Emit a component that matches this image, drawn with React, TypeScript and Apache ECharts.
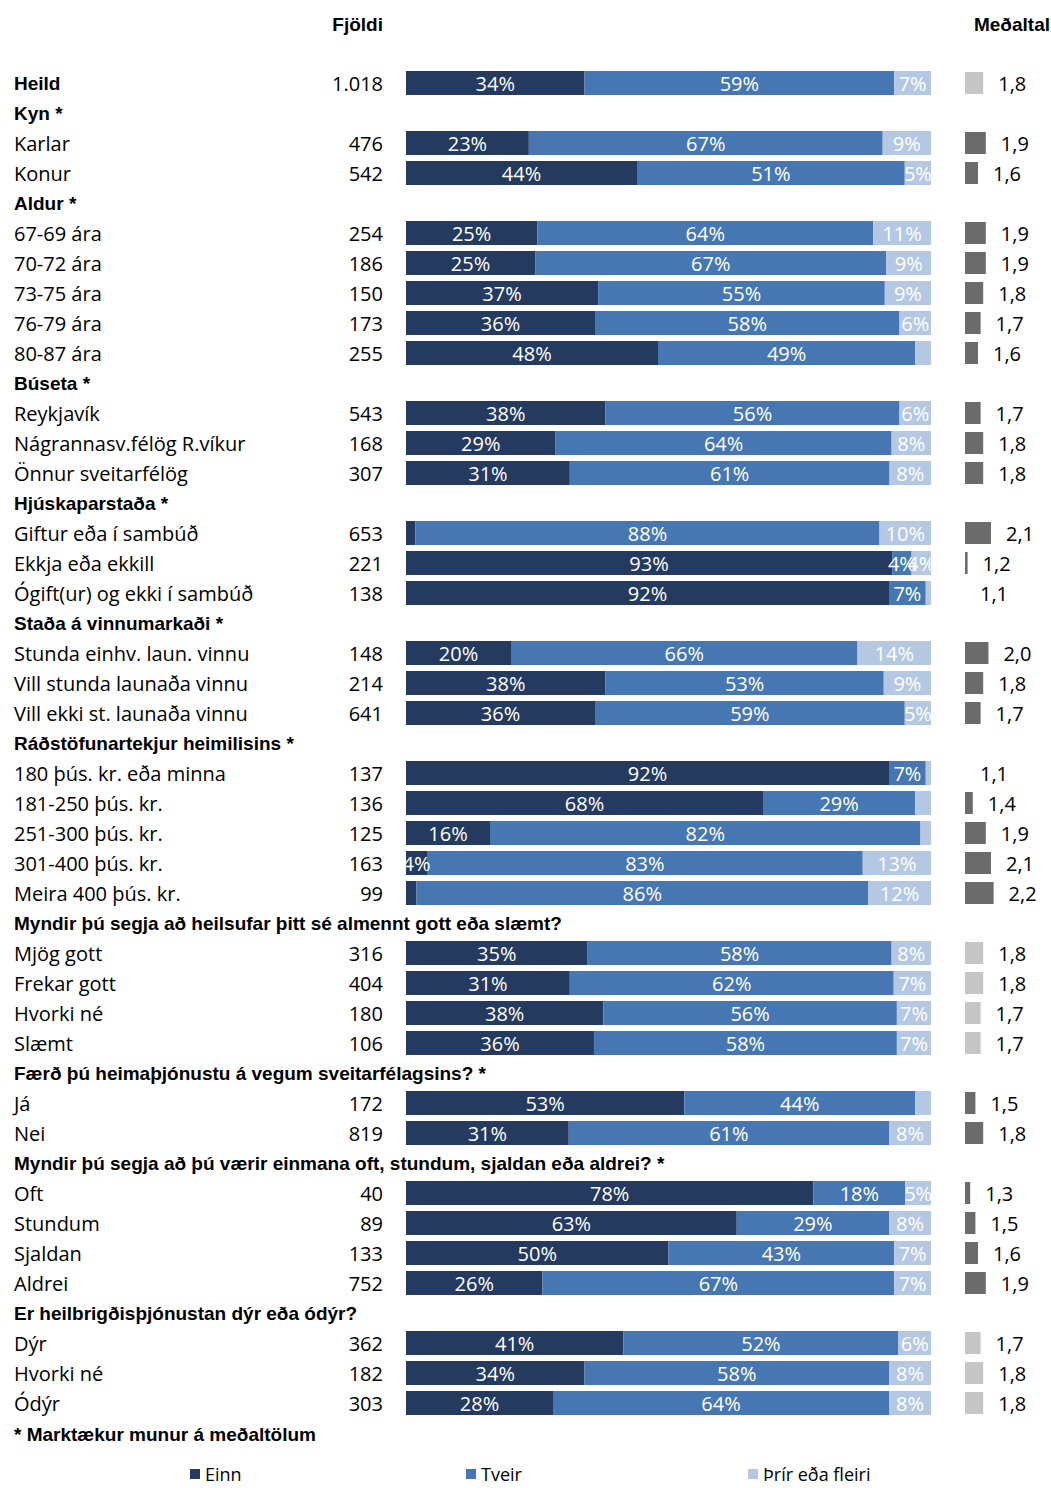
import React, { useEffect, useRef } from "react";
import * as echarts from "echarts";

const rowLabels = [
  "Heild", "Kyn *", "Karlar", "Konur", "Aldur *", "67-69 ára", "70-72 ára", "73-75 ára", "76-79 ára", "80-87 ára",
  "Búseta *", "Reykjavík", "Nágrannasv.félög R.víkur", "Önnur sveitarfélög",
  "Hjúskaparstaða *", "Giftur eða í sambúð", "Ekkja eða ekkill", "Ógift(ur) og ekki í sambúð",
  "Staða á vinnumarkaði *", "Stunda einhv. laun. vinnu", "Vill stunda launaða vinnu", "Vill ekki st. launaða vinnu",
  "Ráðstöfunartekjur heimilisins *", "180 þús. kr. eða minna", "181-250 þús. kr.", "251-300 þús. kr.", "301-400 þús. kr.", "Meira 400 þús. kr.",
  "Myndir þú segja að heilsufar þitt sé almennt gott eða slæmt?", "Mjög gott", "Frekar gott", "Hvorki né", "Slæmt",
  "Færð þú heimaþjónustu á vegum sveitarfélagsins? *", "Já", "Nei",
  "Myndir þú segja að þú værir einmana oft, stundum, sjaldan eða aldrei? *", "Oft", "Stundum", "Sjaldan", "Aldrei",
  "Er heilbrigðisþjónustan dýr eða ódýr?", "Dýr", "Hvorki né", "Ódýr",
];

const counts = [
  1018, null, 476, 542, null, 254, 186, 150, 173, 255,
  null, 543, 168, 307,
  null, 653, 221, 138,
  null, 148, 214, 641,
  null, 137, 136, 125, 163, 99,
  null, 316, 404, 180, 106,
  null, 172, 819,
  null, 40, 89, 133, 752,
  null, 362, 182, 303,
];

const einn = [
  34, null, 23.4, 44, null, 25, 24.6, 36.6, 36, 48,
  null, 38, 28.5, 31.2,
  null, 1.8, 92.6, 92,
  null, 20, 38, 36,
  null, 92, 68, 16, 4, 2,
  null, 34.6, 31.2, 37.6, 35.8,
  null, 53, 31,
  null, 77.6, 63, 50, 26,
  null, 41.4, 34, 28,
];

const tveir = [
  59, null, 67.4, 51, null, 64, 66.9, 54.6, 58, 49,
  null, 56, 64, 60.9,
  null, 88.4, 3.7, 7,
  null, 66, 53, 59,
  null, 7, 29, 82, 83, 86,
  null, 57.9, 61.7, 55.9, 57.7,
  null, 44, 61,
  null, 17.5, 29, 43, 67,
  null, 52.4, 58, 64,
];

const thrir = [
  7, null, 9.2, 5, null, 11, 8.5, 8.8, 6, 3,
  null, 6, 7.5, 7.9,
  null, 9.8, 3.7, 1,
  null, 14, 9, 5,
  null, 1, 3, 2, 13, 12,
  null, 7.5, 7.1, 6.5, 6.5,
  null, 3, 8,
  null, 4.9, 8, 7, 7,
  null, 6.2, 8, 8,
];

const means = [
  1.8, null, 1.9, 1.6, null, 1.9, 1.9, 1.8, 1.7, 1.6,
  null, 1.7, 1.8, 1.8,
  null, 2.1, 1.2, 1.1,
  null, 2.0, 1.8, 1.7,
  null, 1.1, 1.4, 1.9, 2.1, 2.2,
  null, 1.8, 1.8, 1.7, 1.7,
  null, 1.5, 1.8,
  null, 1.3, 1.5, 1.6, 1.9,
  null, 1.7, 1.8, 1.8,
];

const seriesNames = ["Einn", "Tveir", "Þrír eða fleiri"];
const headerTitles = { count: "Fjöldi", mean: "Meðaltal" };
const footnote = "* Marktækur munur á meðaltölum";

const COLORS = ["#243A5E", "#4677B2", "#B4C8E4"];
const MEAN_DARK = "#6B6B6B";
const MEAN_LIGHT = "#C6C6C6";
const REG_FONT = "Open Sans";
const BOLD_FONT = "Liberation Sans";

function isBold(i: number) {
  return i === 0 || counts[i] == null;
}

function meanColor(i: number) {
  // significant (starred) groups get dark bars
  for (let j = i; j >= 0; j--) {
    if (counts[j] == null) {
      return rowLabels[j].trim().endsWith("*") ? MEAN_DARK : MEAN_LIGHT;
    }
  }
  return MEAN_LIGHT;
}

function fmtCount(v: number | null) {
  if (v == null) return "";
  return String(v).replace(/\B(?=(\d{3})+(?!\d))/g, ".");
}

export default function App() {
  const ref = useRef<HTMLDivElement>(null);
  useEffect(() => {
    if (!ref.current) return;
    const chart = echarts.init(ref.current, undefined, { renderer: "svg" });
    const gridTop = 68;
    const gridHeight = 1350;
    const pctLabel = {
      show: true,
      position: "inside",
      color: "#FFFFFF",
      fontFamily: REG_FONT,
      fontSize: 20,
      formatter: (p: any) => {
        if (p.value == null) return "";
        const r = Math.round(p.value);
        return r >= 4 ? r + "%" : "";
      },
    };
    const barSeries = [einn, tveir, thrir].map((arr, k) => ({
      name: seriesNames[k],
      type: "bar",
      stack: "pct",
      xAxisIndex: 0,
      yAxisIndex: 0,
      barWidth: 24,
      itemStyle: { color: COLORS[k] },
      label: pctLabel,
      data: arr,
    }));
    const boldText = {
      fontFamily: BOLD_FONT,
      fontWeight: "bold",
      fontSize: 19,
      fill: "#000",
    };
    const option: any = {
      animation: false,
      textStyle: { fontFamily: REG_FONT, color: "#000" },
      grid: [
        { left: 406, width: 525, top: gridTop, height: gridHeight },
        { left: 965, width: 52, top: gridTop, height: gridHeight },
      ],
      xAxis: [
        { type: "value", gridIndex: 0, min: 0, max: 100, show: false },
        { type: "value", gridIndex: 1, min: 1.1, max: 3.1, show: false },
      ],
      yAxis: [
        {
          type: "category",
          gridIndex: 0,
          inverse: true,
          data: rowLabels,
          position: "left",
          axisLine: { show: false },
          axisTick: { show: false },
          splitLine: { show: false },
          axisLabel: {
            interval: 0,
            align: "left",
            margin: 392,
            formatter: (v: string, i: number) => (isBold(i) ? `{b|${v}}` : `{r|${v}}`),
            rich: {
              b: { fontFamily: BOLD_FONT, fontWeight: "bold", fontSize: 19, color: "#000" },
              r: { fontFamily: REG_FONT, fontSize: 20, color: "#000" },
            },
          },
        },
        {
          type: "category",
          gridIndex: 0,
          inverse: true,
          data: rowLabels,
          position: "left",
          axisLine: { show: false },
          axisTick: { show: false },
          splitLine: { show: false },
          axisLabel: {
            interval: 0,
            align: "right",
            margin: 23,
            fontFamily: REG_FONT,
            fontSize: 20,
            color: "#000",
            formatter: (_v: string, i: number) => fmtCount(counts[i]),
          },
        },
        {
          type: "category",
          gridIndex: 1,
          inverse: true,
          data: rowLabels,
          show: false,
        },
      ],
      legend: seriesNames.map((n, k) => ({
        data: [n],
        left: [190, 466, 748][k],
        top: 1465,
        padding: 0,
        icon: "rect",
        itemWidth: 10,
        itemHeight: 10,
        itemGap: 5,
        textStyle: { fontFamily: REG_FONT, fontSize: 18, color: "#000" },
      })),
      graphic: [
        {
          type: "text",
          x: 383,
          y: 24,
          style: { ...boldText, text: headerTitles.count, align: "right", verticalAlign: "middle" },
        },
        {
          type: "text",
          x: 1050,
          y: 24,
          style: { ...boldText, text: headerTitles.mean, align: "right", verticalAlign: "middle" },
        },
        {
          type: "text",
          x: 14,
          y: 1434,
          style: { ...boldText, text: footnote, align: "left", verticalAlign: "middle" },
        },
      ],
      series: [
        ...barSeries,
        {
          name: "Meðaltal",
          type: "bar",
          xAxisIndex: 1,
          yAxisIndex: 2,
          barWidth: 22,
          data: means.map((m, i) => (m == null ? null : { value: m, itemStyle: { color: meanColor(i) } })),
          label: {
            show: true,
            position: "right",
            distance: 15,
            fontFamily: REG_FONT,
            fontSize: 20,
            color: "#000",
            formatter: (p: any) => (p.value == null ? "" : Number(p.value).toFixed(1).replace(".", ",")),
          },
        },
      ],
    };
    chart.setOption(option);
    return () => chart.dispose();
  }, []);
  return (
    <div
      ref={ref}
      style={{ position: "absolute", left: 0, top: 0, width: 1051, height: 1488 }}
    />
  );
}
